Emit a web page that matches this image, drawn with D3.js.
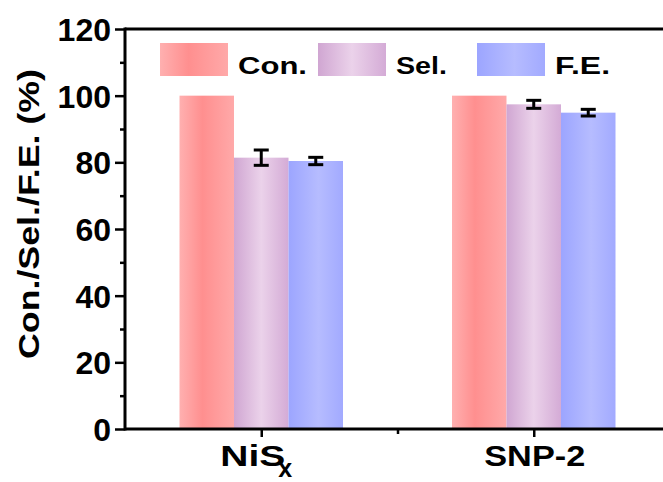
<!DOCTYPE html>
<html><head><meta charset="utf-8">
<script src="https://cdn.jsdelivr.net/npm/d3@7"></script>
<style>body{margin:0;background:#fff}svg{display:block}text{font-family:"Liberation Sans",Arial,sans-serif;font-weight:bold;fill:#000}</style>
</head><body><svg id="c" width="663" height="482"></svg>
<script>
const categories = ["NiS", "SNP-2"];
const seriesNames = ["Con.", "Sel.", "F.E."];
const conValues = [100, 100];
const selValues = [81.4, 97.4];
const selErrors = [2.3, 1.2];
const feValues = [80.4, 94.9];
const feErrors = [1.1, 1.0];
const yTicks = [0, 20, 40, 60, 80, 100, 120];
const yMinorTicks = [10, 30, 50, 70, 90, 110];

const svg = d3.select("#c");
const x = d3.scaleLinear().domain([0.5, 2.5]).range([125, 670]);
const y = d3.scaleLinear().domain([0, 120]).range([429, 29]);
const barW = 0.2;

const grads = [
  [[0, "#ffb0b0"], [0.42, "#ff8f8f"], [1, "#ffa9a9"]],
  [[0, "#d0a6d2"], [0.5, "#ebd2ea"], [1, "#d4abd6"]],
  [[0, "#9ca5ff"], [0.55, "#b6bcff"], [1, "#a2aaff"]]
];
const defs = svg.append("defs");
grads.forEach((g, i) => {
  const lg = defs.append("linearGradient").attr("id", "g" + i)
    .attr("x1", 0).attr("x2", 1).attr("y1", 0).attr("y2", 0);
  g.forEach(s => lg.append("stop").attr("offset", s[0]).attr("stop-color", s[1]));
});

const series = [
  {vals: conValues, errs: null},
  {vals: selValues, errs: selErrors},
  {vals: feValues, errs: feErrors}
];

series.forEach((s, j) => {
  s.vals.forEach((v, i) => {
    const cx = i + 1;
    const x0 = x(cx + (j - 1.5) * barW), x1 = x(cx + (j - 0.5) * barW);
    svg.append("rect").attr("x", x0).attr("y", y(v)).attr("width", x1 - x0)
      .attr("height", y(0) - y(v)).attr("fill", `url(#g${j})`);
  });
});
// error bars
series.forEach((s, j) => {
  if (!s.errs) return;
  s.vals.forEach((v, i) => {
    const cx = x(i + 1 + (j - 1) * barW);
    const e = s.errs[i];
    const g = svg.append("g").attr("stroke", "#000").attr("stroke-width", 3);
    g.append("line").attr("x1", cx).attr("x2", cx).attr("y1", y(v + e)).attr("y2", y(v - e));
    g.append("line").attr("x1", cx - 7.5).attr("x2", cx + 7.5).attr("y1", y(v + e)).attr("y2", y(v + e));
    g.append("line").attr("x1", cx - 7.5).attr("x2", cx + 7.5).attr("y1", y(v - e)).attr("y2", y(v - e));
  });
});

// axes
const yAxis = d3.axisLeft(y).tickValues(yTicks).tickSize(10).tickPadding(4).tickFormat(d3.format("d"));
const yg = svg.append("g").attr("transform", "translate(125,0)").call(yAxis);
yg.select(".domain").remove();
yg.selectAll(".tick line").attr("stroke-width", 2.5);
yg.selectAll(".tick text").attr("font-size", 32).attr("dy", "0.36em")
  .style("font-family", '"Liberation Sans",Arial,sans-serif').style("font-weight", "bold");
const ym = svg.append("g").attr("transform", "translate(125,0)")
  .call(d3.axisLeft(y).tickValues(yMinorTicks).tickSize(5).tickFormat(""));
ym.select(".domain").remove();
ym.selectAll(".tick line").attr("stroke-width", 2.5);

const xAxis = d3.axisBottom(x).tickValues([1, 2]).tickSize(8).tickFormat("");
const xg = svg.append("g").attr("transform", "translate(0,429)").call(xAxis);
xg.select(".domain").remove();
xg.selectAll(".tick line").attr("stroke-width", 2.5);
const xm = svg.append("g").attr("transform", "translate(0,429)")
  .call(d3.axisBottom(x).tickValues([1.5]).tickSize(5).tickFormat(""));
xm.select(".domain").remove();
xm.selectAll(".tick line").attr("stroke-width", 2.5);

// frame lines
svg.append("line").attr("x1", 125).attr("x2", 670).attr("y1", 429).attr("y2", 429).attr("stroke", "#000").attr("stroke-width", 3);
svg.append("line").attr("x1", 125).attr("x2", 670).attr("y1", 29).attr("y2", 29).attr("stroke", "#000").attr("stroke-width", 3);
svg.append("line").attr("x1", 125).attr("x2", 125).attr("y1", 27.5).attr("y2", 430.5).attr("stroke", "#000").attr("stroke-width", 3);

// x labels
const nl = svg.append("text").attr("x", x(1) - 5).attr("y", 466).attr("text-anchor", "middle").attr("font-size", 30);
nl.append("tspan").text(categories[0]).attr("textLength", 65).attr("lengthAdjust", "spacingAndGlyphs");
nl.append("tspan").text("x").attr("font-size", 25).attr("dy", 11).attr("dx", -7);
svg.append("text").attr("x", x(2) + 1).attr("y", 466).attr("text-anchor", "middle").attr("font-size", 30)
  .attr("textLength", 101).attr("lengthAdjust", "spacingAndGlyphs").text(categories[1]);

// y title
svg.append("text").attr("transform", "translate(39,214) rotate(-90)").attr("text-anchor", "middle")
  .attr("font-size", 29).attr("textLength", 290).attr("lengthAdjust", "spacingAndGlyphs").text("Con./Sel./F.E. (%)");

// legend
const legX = [160, 318, 477];
const legTextW = [69, 51, 55];
seriesNames.forEach((n, j) => {
  svg.append("rect").attr("x", legX[j]).attr("y", 43).attr("width", 68).attr("height", 33).attr("fill", `url(#g${j})`);
  svg.append("text").attr("x", legX[j] + 78).attr("y", 73.5).attr("font-size", 24)
    .attr("textLength", legTextW[j]).attr("lengthAdjust", "spacingAndGlyphs").text(n);
});
</script></body></html>
